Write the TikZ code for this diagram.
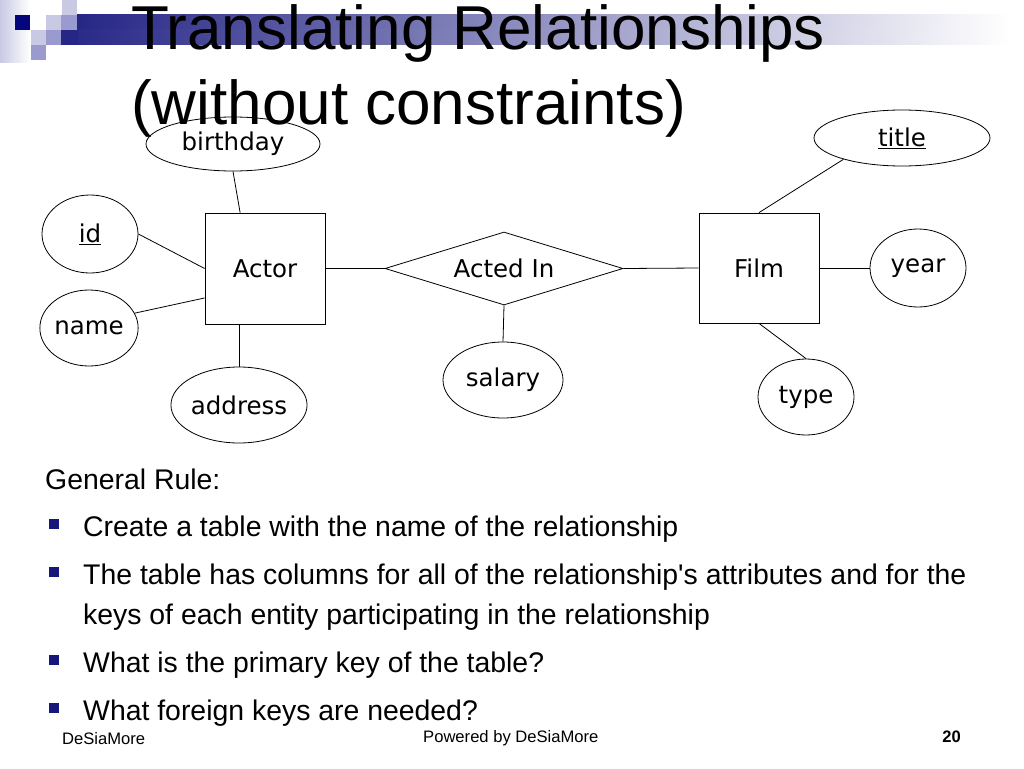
\documentclass[tikz,border=0pt]{standalone}
\usepackage{fontspec}
\setmainfont{Liberation Sans}
\newfontfamily\erfont{DejaVu Sans}
\usetikzlibrary{shapes.geometric}
\definecolor{bulnavy}{HTML}{17177A}
\definecolor{sqnavy}{HTML}{06067C}
\definecolor{barnavy}{HTML}{262686}
\definecolor{lav}{HTML}{C9C9E4}
\definecolor{midlav}{HTML}{9A9ACE}
\begin{document}
\begin{tikzpicture}[x=1pt,y=-1pt,
  ent/.style={draw=black,line width=0.8pt,minimum width=120pt,minimum height=111pt,inner sep=0pt,font=\erfont\fontsize{24.5}{28}\selectfont},
  attr/.style={draw=black,line width=0.8pt,ellipse,inner sep=0pt,font=\erfont\fontsize{24.5}{28}\selectfont},
  rel/.style={draw=black,line width=0.8pt,diamond,shape aspect=3.26,inner sep=0pt,minimum width=238pt,minimum height=73pt,font=\erfont\fontsize{24.5}{28}\selectfont},
  conn/.style={draw=black,line width=0.8pt},
  slidetext/.style={anchor=base west,inner sep=0pt,font=\fontsize{28.4}{34}\selectfont},
  bul/.style={fill=bulnavy,minimum size=10pt,inner sep=0pt},
  foot/.style={inner sep=0pt,font=\fontsize{16.6}{19}\selectfont}
]
\useasboundingbox (0,0) rectangle (1024,768);
% decoration
\shade[left color=lav,right color=white] (0,0) rectangle (30,62);
\shade[left color=barnavy,right color=white] (77,15) rectangle (1010,30);
\shade[left color=barnavy,right color=white] (61,30) rectangle (1010,45);
\fill[barnavy] (61,30) rectangle (78,45);
\fill[lav] (62,0) rectangle (77,15);
\fill[sqnavy] (15,15) rectangle (30,30);
\fill[lav] (46,15) rectangle (61,30);
\fill[midlav] (61,15) rectangle (77,30);
\fill[lav] (31,30) rectangle (46,45);
\fill[midlav] (46,30) rectangle (61,45);
\fill[midlav] (31,45) rectangle (46,60);
% title
\node[anchor=base west,inner sep=0pt,font=\fontsize{62}{75}\selectfont] (title1) at (131,49) {Translating Relationships};
\node[anchor=base west,inner sep=0pt,font=\fontsize{62}{75}\selectfont] (title2) at (131,124) {(without constraints)};
% ER diagram
\node[ent,minimum height=111pt] (actor) at (265,268.5) {Actor};
\node[ent,minimum height=110pt] (film) at (759,268) {Film};
\node[rel] (actedin) at (504,268.5) {Acted In};
\node[attr,minimum width=174pt,minimum height=54pt] (birthday) at (233,144) {birthday};
\node[attr,minimum width=96pt,minimum height=78pt] (id) at (90,234) {\underline{id}};
\node[attr,minimum width=94pt,minimum height=76pt] (name) at (89,328) {name};
\node[attr,minimum width=118pt,minimum height=76pt] (address) at (239,405) {address};
\node[attr,minimum width=120pt,minimum height=76pt] (salary) at (503,380) {salary};
\node[attr,minimum width=176pt,minimum height=56pt] (title) at (902,138) {\underline{title}};
\node[attr,minimum width=96pt,minimum height=78pt] (year) at (918,268) {year};
\node[attr,minimum width=96pt,minimum height=76pt] (type) at (806,397) {type};
\draw[conn] (birthday.south) -- (actor.114);
\draw[conn] (id.east) -- (actor.west);
\draw[conn] (name.18) -- (actor.206);
\draw[conn] (address.north) -- (address.north |- actor.south);
\draw[conn] (actor.east) -- (actedin.west);
\draw[conn] (actedin.east) -- (film.west);
\draw[conn] (actedin.south) -- (salary.north);
\draw[conn] (title.200) -- (film.north);
\draw[conn] (film.east) -- (year.west);
\draw[conn] (film.south) -- (type.north);
% slide text
\node[slidetext] (rule) at (45,489) {General Rule:};
\node[bul] (b1) at (54,524) {};
\node[slidetext] (t1) at (83,536) {Create a table with the name of the relationship};
\node[bul] (b2) at (54,572) {};
\node[slidetext] (t2) at (83,584) {The table has columns for all of the relationship\textquotesingle s attributes and for the};
\node[slidetext] (t2b) at (83,624) {keys of each entity participating in the relationship};
\node[bul] (b3) at (54,660) {};
\node[slidetext] (t3) at (83,672) {What is the primary key of the table?};
\node[bul] (b4) at (54,708) {};
\node[slidetext] (t4) at (83,720) {What foreign keys are needed?};
% footer
\node[foot,anchor=base west] (f1) at (62,744) {DeSiaMore};
\node[foot,anchor=base west] (f2) at (423,742) {Powered by DeSiaMore};
\node[foot,anchor=base east,font=\bfseries\fontsize{16.6}{19}\selectfont] (f3) at (961,742) {20};
\end{tikzpicture}
\end{document}
